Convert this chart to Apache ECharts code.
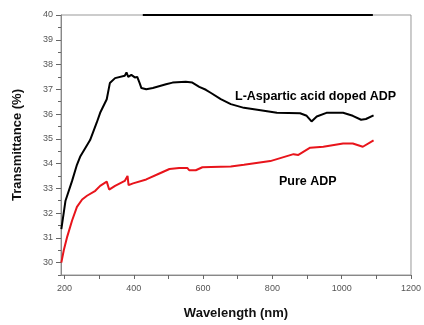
<!DOCTYPE html>
<html>
<head>
<meta charset="utf-8">
<script src="https://cdn.jsdelivr.net/npm/echarts@6/dist/echarts.min.js"></script>
<style>
html, body { margin: 0; padding: 0; background: #fff; }
#main { width: 424px; height: 325px; }
</style>
</head>
<body>
<div id="main"></div>
<script>
// doped ADP (black) : [wavelength, transmittance]
var dopedWl = [191, 203, 222, 236, 246, 274, 293, 303, 322, 331, 346, 374, 379, 384, 393, 403, 410, 417, 422, 436, 455, 493, 512, 550, 569, 589, 608, 623, 651, 680, 718, 766, 813, 880, 899, 913, 928, 956, 1004, 1032, 1056, 1070, 1092];
var dopedT = [31.35, 32.5, 33.3, 33.95, 34.3, 34.95, 35.65, 36.05, 36.6, 37.25, 37.45, 37.55, 37.68, 37.5, 37.58, 37.48, 37.5, 37.25, 37.05, 37.0, 37.05, 37.2, 37.27, 37.3, 37.27, 37.1, 36.98, 36.85, 36.6, 36.4, 36.25, 36.15, 36.05, 36.03, 35.93, 35.7, 35.9, 36.05, 36.05, 35.93, 35.77, 35.8, 35.95];

// pure ADP (red)
var pureWl = [191, 198, 208, 222, 236, 251, 265, 289, 303, 322, 327, 329, 346, 374, 382, 385, 398, 436, 474, 503, 531, 555, 560, 579, 598, 623, 680, 718, 794, 861, 875, 909, 947, 1004, 1032, 1061, 1092];
var pureT = [30.0, 30.5, 31.05, 31.7, 32.25, 32.55, 32.7, 32.9, 33.1, 33.27, 33.3, 32.95, 33.1, 33.3, 33.5, 33.13, 33.2, 33.36, 33.6, 33.78, 33.82, 33.82, 33.73, 33.73, 33.85, 33.86, 33.88, 33.95, 34.1, 34.38, 34.35, 34.64, 34.68, 34.81, 34.81, 34.68, 34.94];

var xLabels = [200, 400, 600, 800, 1000, 1200];
var xTicks = [200, 300, 400, 500, 600, 700, 800, 900, 1000, 1100, 1200];
var yLabels = [30, 31, 32, 33, 34, 35, 36, 37, 38, 39, 40];
var yMinor = [29.5, 30.5, 31.5, 32.5, 33.5, 34.5, 35.5, 36.5, 37.5, 38.5, 39.5];

function pairs(xs, ys) {
    var out = [];
    for (var i = 0; i < xs.length; i++) {
        out.push([xs[i], ys[i]]);
    }
    return out;
}

var myChart = echarts.init(document.getElementById('main'));
var labelStyle = {
    color: '#555',
    fontSize: 9,
    fontFamily: 'Liberation Sans, Arial, sans-serif',
    formatter: function(v) { return String(v); }
};
var option = {
    backgroundColor: '#fff',
    animation: false,
    grid: {
        left: 61,
        top: 15,
        right: 13,
        bottom: 42,
        show: true,
        borderColor: '#999',
        borderWidth: 1
    },
    xAxis: {
        type: 'value',
        min: 190,
        max: 1200,
        name: 'Wavelength (nm)',
        nameLocation: 'middle',
        nameGap: 32,
        nameTextStyle: {
            fontSize: 13,
            fontWeight: 'bold',
            color: '#111',
            fontFamily: 'Liberation Sans, Arial, sans-serif'
        },
        axisLine: { lineStyle: { color: '#888' } },
        axisTick: {
            show: true,
            length: 4,
            customValues: xTicks,
            lineStyle: { color: '#666' }
        },
        axisLabel: Object.assign({ customValues: xLabels, margin: 9 }, labelStyle),
        splitLine: { show: false }
    },
    yAxis: [{
        type: 'value',
        min: 29.5,
        max: 40,
        name: 'Transmittance (%)',
        nameLocation: 'middle',
        nameGap: 37,
        nameTextStyle: {
            fontSize: 13,
            fontWeight: 'bold',
            color: '#111',
            fontFamily: 'Liberation Sans, Arial, sans-serif'
        },
        axisLine: { show: true, lineStyle: { color: '#888' } },
        axisTick: {
            show: true,
            length: 5,
            customValues: yLabels,
            lineStyle: { color: '#666' }
        },
        axisLabel: Object.assign({ customValues: yLabels, margin: 8 }, labelStyle),
        splitLine: { show: false }
    }, {
        type: 'value',
        min: 29.5,
        max: 40,
        position: 'left',
        axisLine: { show: false },
        axisTick: {
            show: true,
            length: 3,
            customValues: yMinor,
            lineStyle: { color: '#666' }
        },
        axisLabel: { show: false },
        splitLine: { show: false }
    }],
    series: [{
        name: 'L-Aspartic acid doped ADP',
        type: 'line',
        data: pairs(dopedWl, dopedT),
        showSymbol: false,
        lineStyle: { color: '#000', width: 2 },
        markLine: {
            silent: true,
            symbol: 'none',
            label: { show: false },
            lineStyle: { color: '#000', width: 2, type: 'solid' },
            data: [[{ coord: [426, 40] }, { coord: [1090, 40] }]]
        }
    }, {
        name: 'Pure ADP',
        type: 'line',
        data: pairs(pureWl, pureT),
        showSymbol: false,
        lineStyle: { color: '#e8141b', width: 2 }
    }],
    graphic: [{
        type: 'text',
        left: 235,
        top: 90,
        style: {
            text: 'L-Aspartic acid doped ADP',
            fill: '#000',
            font: 'bold 12.5px Liberation Sans, Arial, sans-serif'
        }
    }, {
        type: 'text',
        left: 279,
        top: 175,
        style: {
            text: 'Pure ADP',
            fill: '#000',
            font: 'bold 12.5px Liberation Sans, Arial, sans-serif'
        }
    }]
};
myChart.setOption(option);
</script>
</body>
</html>
